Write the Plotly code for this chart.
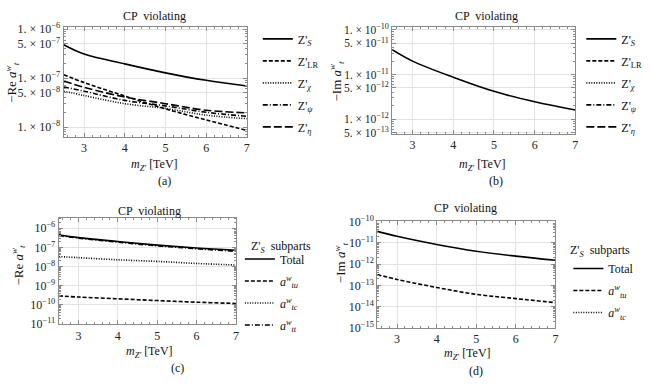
import plotly.graph_objects as go

# mass of Z' in TeV
mz = [2.5, 3, 4, 5, 6, 7]

# (a) -Re a^w_t
re_zs = [4.8e-7, 3.1e-7, 1.95e-7, 1.28e-7, 9.0e-8, 6.9e-8]
re_lr = [1.17e-7, 8.1e-8, 4.3e-8, 2.35e-8, 1.4e-8, 8.5e-9]
re_chi = [5.4e-8, 4.4e-8, 3.0e-8, 2.4e-8, 1.75e-8, 1.48e-8]
re_psi = [6.6e-8, 5.4e-8, 3.5e-8, 2.7e-8, 2.0e-8, 1.66e-8]
re_eta = [8.7e-8, 6.5e-8, 4.1e-8, 3.0e-8, 2.2e-8, 1.95e-8]

# (b) -Im a^w_t
im_zs = [3.6e-11, 2.0e-11, 8.7e-12, 4.2e-12, 2.45e-12, 1.6e-12]

# (c) Z'_S subparts, real part
re_total = [4.5e-7, 3.2e-7, 2.0e-7, 1.3e-7, 9.2e-8, 7.0e-8]
re_tu = [3.0e-10, 2.6e-10, 2.1e-10, 1.7e-10, 1.4e-10, 1.2e-10]
re_tc = [3.3e-8, 2.9e-8, 2.25e-8, 1.85e-8, 1.45e-8, 1.2e-8]
re_tt = [4.2e-7, 3.0e-7, 1.85e-7, 1.2e-7, 8.4e-8, 6.2e-8]

# (d) Z'_S subparts, imaginary part
im_total = [3.4e-11, 2.0e-11, 8.3e-12, 4.0e-12, 2.35e-12, 1.5e-12]
im_tu = [3.2e-13, 1.9e-13, 8.0e-14, 3.8e-14, 2.4e-14, 1.55e-14]

zp_names = ["Z'<sub><i>S</i></sub>", "Z'<sub>LR</sub>", "Z'<sub><i>χ</i></sub>",
            "Z'<sub><i>ψ</i></sub>", "Z'<sub><i>η</i></sub>"]
sub_names = ["Total", "<i>a</i><sup><i>w</i></sup><sub><i>tu</i></sub>",
             "<i>a</i><sup><i>w</i></sup><sub><i>tc</i></sub>",
             "<i>a</i><sup><i>w</i></sup><sub><i>tt</i></sub>"]

ticks_a = [1e-6, 5e-7, 1e-7, 5e-8, 1e-8]
text_a = ["1. × 10<sup>−6</sup>", "5. × 10<sup>−7</sup>", "1. × 10<sup>−7</sup>",
          "5. × 10<sup>−8</sup>", "1. × 10<sup>−8</sup>"]
ticks_b = [1e-10, 5e-11, 1e-11, 5e-12, 1e-12, 5e-13]
text_b = ["1. × 10<sup>−10</sup>", "5. × 10<sup>−11</sup>", "1. × 10<sup>−11</sup>",
          "5. × 10<sup>−12</sup>", "1. × 10<sup>−12</sup>", "5. × 10<sup>−13</sup>"]
ticks_c = [1e-6, 1e-7, 1e-8, 1e-9, 1e-10, 1e-11]
text_c = ["10<sup>−6</sup>", "10<sup>−7</sup>", "10<sup>−8</sup>",
          "10<sup>−9</sup>", "10<sup>−10</sup>", "10<sup>−11</sup>"]
ticks_d = [1e-10, 1e-11, 1e-12, 1e-13, 1e-14, 1e-15]
text_d = ["10<sup>−10</sup>", "10<sup>−11</sup>", "10<sup>−12</sup>",
          "10<sup>−13</sup>", "10<sup>−14</sup>", "10<sup>−15</sup>"]

SERIF = "Liberation Serif, Times New Roman, serif"
dashes = ["solid", "4px,2px", "1px,1.5px", "5px,2px,1px,2px", "8px,3px"]
sub_dashes = ["solid", "4px,2px", "1px,1.5px", "5px,2px,1px,2px"]

fig = go.Figure()

def line(x, y, name, dash, xa, ya, legend, show=True):
    fig.add_trace(go.Scatter(
        x=x, y=y, mode="lines", name=name, xaxis=xa, yaxis=ya,
        line=dict(color="black", width=1.6, dash=dash, shape="spline"),
        legend=legend, legendgroup=legend + name, showlegend=show,
    ))

# (a)
for ys, nm, d in zip([re_zs, re_lr, re_chi, re_psi, re_eta], zp_names, dashes):
    line(mz, ys, nm, d, "x", "y", "legend")
# (b): only Z'_S visible, the rest only in the legend
line(mz, im_zs, zp_names[0], dashes[0], "x2", "y2", "legend2")
for nm, d in zip(zp_names[1:], dashes[1:]):
    line([None], [None], nm, d, "x2", "y2", "legend2")
# (c)
for ys, nm, d in zip([re_total, re_tu, re_tc, re_tt], sub_names, sub_dashes):
    line(mz, ys, nm, d, "x3", "y3", "legend3")
# (d)
line(mz, im_total, sub_names[0], sub_dashes[0], "x4", "y4", "legend4")
line(mz, im_tu, sub_names[1], sub_dashes[1], "x4", "y4", "legend4")
line([None], [None], sub_names[2], sub_dashes[2], "x4", "y4", "legend4")

minor_x = [2.6 + 0.2 * i for i in range(23) if round((2.6 + 0.2 * i) % 1, 3) != 0]

def log_minor(lo, hi):
    vals = []
    for e in range(lo, hi + 1):
        for m in range(2, 10):
            vals.append(m * 10.0 ** e)
    return vals

def frame(**kw):
    d = dict(showline=True, linecolor="#8a8a8a", linewidth=1, mirror="allticks",
             ticks="inside", ticklen=4, tickcolor="#8a8a8a", showgrid=True,
             gridcolor="#e3e3e3", gridwidth=1, zeroline=False,
             tickfont=dict(family=SERIF, size=12, color="#222"))
    d.update(kw)
    return d

def xaxis(dom, anchor):
    return frame(domain=dom, anchor=anchor, range=[2.5, 7], tickvals=[3, 4, 5, 6, 7],
                 minor=dict(tickvals=minor_x, ticks="inside", ticklen=2,
                            tickcolor="#8a8a8a", showgrid=False))

def yaxis(dom, anchor, rng, tv, tt, mlo, mhi, fs=12):
    return frame(domain=dom, anchor=anchor, type="log", range=rng, tickvals=tv,
                 ticktext=tt, tickfont=dict(family=SERIF, size=fs, color="#222"),
                 minor=dict(tickvals=log_minor(mlo, mhi), ticks="inside", ticklen=2,
                            tickcolor="#8a8a8a", showgrid=False))

W, H = 651, 386
def px_x(a, b):
    return [a / W, b / W]
def px_y(top, bottom):
    return [1 - bottom / H, 1 - top / H]

leg = dict(bgcolor="rgba(0,0,0,0)", font=dict(family=SERIF, size=12, color="#111"),
           xanchor="left", yanchor="top", tracegroupgap=3, itemwidth=30)

fig.update_layout(
    width=W, height=H, margin=dict(l=0, r=0, t=0, b=0),
    paper_bgcolor="white", plot_bgcolor="white",
    font=dict(family=SERIF, size=12, color="#222"),
    xaxis=xaxis(px_x(64, 248), "y"),
    yaxis=yaxis(px_y(20, 134), "x", [-8.2, -5.96], ticks_a, text_a, -9, -6),
    xaxis2=xaxis(px_x(394, 578), "y2"),
    yaxis2=yaxis(px_y(20, 131), "x2", [-12.33, -9.94], ticks_b, text_b, -13, -10, 11.5),
    xaxis3=xaxis(px_x(59, 237), "y3"),
    yaxis3=yaxis(px_y(218, 329), "x3", [-11, -5.45], ticks_c, text_c, -11, -6),
    xaxis4=xaxis(px_x(379, 558), "y4"),
    yaxis4=yaxis(px_y(222, 333), "x4", [-15, -10], ticks_d, text_d, -15, -10),
    legend=dict(leg, x=259 / W, y=1 - 17 / H),
    legend2=dict(leg, x=584 / W, y=1 - 17 / H),
    legend3=dict(leg, x=241 / W, y=1 - 246 / H),
    legend4=dict(leg, x=571 / W, y=1 - 256 / H),
)

xtitle = "<i>m</i><sub><i>Z'</i></sub> [TeV]"
re_title = "−Re <i>a</i><sup><i>w</i></sup><sub><i>t</i></sub>"
im_title = "−Im <i>a</i><sup><i>w</i></sup><sub><i>t</i></sub>"
leg_title = "Z'<sub><i>S</i></sub>  subparts"

# text, x, y, angle, anchor
anns = [("CP  violating", 155, 8, 0, "center"), ("CP  violating", 489, 8, 0, "center"),
        ("CP  violating", 150, 211, 0, "center"), ("CP  violating", 468, 208, 0, "center"),
        (xtitle, 155, 163, 0, "center"), (xtitle, 485, 163, 0, "center"),
        (xtitle, 150, 358, 0, "center"), (xtitle, 470, 360, 0, "center"),
        (re_title, 12, 77, -90, "center"), (im_title, 338, 76, -90, "center"),
        (re_title, 18, 267, -90, "center"), (im_title, 342, 265, -90, "center"),
        (leg_title, 250, 249, 0, "left"), (leg_title, 571, 253, 0, "left"),
        ("(a)", 165, 180, 0, "center"), ("(b)", 498, 180, 0, "center"),
        ("(c)", 178, 375, 0, "center"), ("(d)", 478, 378, 0, "center")]
for txt, x, y, ang, xa in anns:
    fig.add_annotation(text=txt, x=x / W, y=1 - y / H, xref="paper", yref="paper",
                       showarrow=False, xanchor=xa, yanchor="middle", textangle=ang,
                       font=dict(family=SERIF, size=12 if ang == 0 else 13, color="#111"))

# the page's default body margin would shift the picture; drop it
fig.write_html("out.html", config={"displayModeBar": False},
               post_script="document.body.style.margin='0';")
